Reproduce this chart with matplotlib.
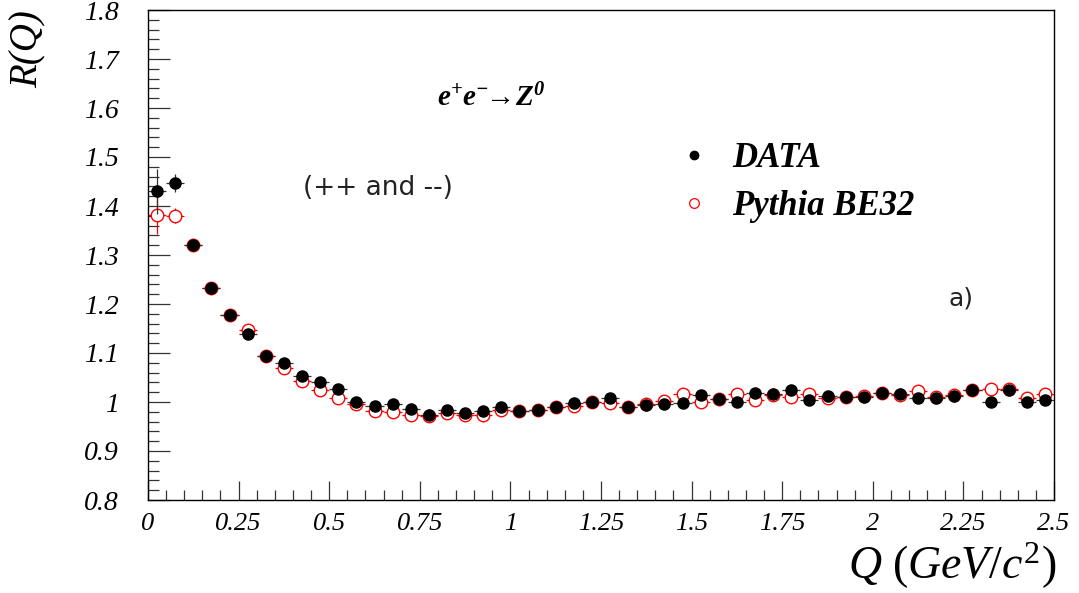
import matplotlib.pyplot as plt
import numpy as np
from matplotlib.lines import Line2D
from matplotlib.ticker import MultipleLocator

plt.rcParams['font.family'] = 'Liberation Serif'
plt.rcParams['mathtext.fontset'] = 'custom'
plt.rcParams['mathtext.rm'] = 'Liberation Serif'
plt.rcParams['mathtext.it'] = 'Liberation Serif:italic'
plt.rcParams['mathtext.bf'] = 'Liberation Serif:bold:italic'

# bin centres in Q (GeV), 50 bins of 0.05
q = [0.025, 0.075, 0.125, 0.175, 0.225, 0.275, 0.325, 0.375, 0.425, 0.475,
     0.525, 0.575, 0.625, 0.675, 0.725, 0.775, 0.825, 0.875, 0.925, 0.975,
     1.025, 1.075, 1.125, 1.175, 1.225, 1.275, 1.325, 1.375, 1.425, 1.475,
     1.525, 1.575, 1.625, 1.675, 1.725, 1.775, 1.825, 1.875, 1.925, 1.975,
     2.025, 2.075, 2.125, 2.175, 2.225, 2.275, 2.325, 2.375, 2.425, 2.475]
q_half = 0.025

r_data = [1.430, 1.447, 1.320, 1.232, 1.177, 1.138, 1.093, 1.079, 1.053, 1.040,
          1.026, 1.001, 0.992, 0.996, 0.985, 0.973, 0.984, 0.977, 0.982, 0.990,
          0.982, 0.984, 0.989, 0.997, 1.001, 1.008, 0.989, 0.994, 0.996, 0.997,
          1.014, 1.006, 0.999, 1.019, 1.016, 1.025, 1.005, 1.012, 1.011, 1.010,
          1.019, 1.016, 1.008, 1.008, 1.012, 1.025, 0.999, 1.025, 1.001, 1.005]
r_data_err = [0.046, 0.018, 0.008, 0.006, 0.005, 0.005, 0.004, 0.004, 0.004, 0.004,
              0.004, 0.004, 0.004, 0.004, 0.004, 0.004, 0.004, 0.004, 0.004, 0.004,
              0.004, 0.004, 0.004, 0.004, 0.004, 0.004, 0.004, 0.004, 0.004, 0.004,
              0.004, 0.004, 0.004, 0.004, 0.004, 0.004, 0.004, 0.004, 0.004, 0.004,
              0.004, 0.004, 0.004, 0.004, 0.004, 0.004, 0.004, 0.004, 0.004, 0.004]

r_mc = [1.382, 1.380, 1.320, 1.232, 1.177, 1.146, 1.093, 1.069, 1.042, 1.025,
        1.008, 0.995, 0.982, 0.980, 0.973, 0.971, 0.977, 0.974, 0.974, 0.984,
        0.982, 0.984, 0.989, 0.992, 0.999, 0.997, 0.989, 0.996, 1.003, 1.016,
        1.001, 1.006, 1.016, 1.004, 1.014, 1.010, 1.016, 1.008, 1.011, 1.012,
        1.019, 1.014, 1.023, 1.011, 1.014, 1.025, 1.026, 1.026, 1.008, 1.016]
r_mc_err = [0.040, 0.015, 0.006, 0.005, 0.004, 0.004, 0.003, 0.003, 0.003, 0.003,
            0.003, 0.003, 0.003, 0.003, 0.003, 0.003, 0.003, 0.003, 0.003, 0.003,
            0.003, 0.003, 0.003, 0.003, 0.003, 0.003, 0.003, 0.003, 0.003, 0.003,
            0.003, 0.003, 0.003, 0.003, 0.003, 0.003, 0.003, 0.003, 0.003, 0.003,
            0.003, 0.003, 0.003, 0.003, 0.003, 0.003, 0.003, 0.003, 0.003, 0.003]

fig = plt.figure(figsize=(10.79, 5.93), dpi=100)
ax = fig.add_axes([148/1079, 1 - 500/593, 906/1079, 490/593])

# simulation first, data drawn on top
ax.errorbar(q, r_mc, xerr=q_half, yerr=r_mc_err, fmt='o', ms=9,
            mfc='white', mec='#ff0000', mew=1.0, ecolor='#ff0000', elinewidth=0.9,
            capsize=0, zorder=2)
ax.errorbar(q, r_data, xerr=q_half, yerr=r_data_err, fmt='o', ms=8,
            mfc='black', mec='black', ecolor='#333333', elinewidth=0.9,
            capsize=0, zorder=3)

ax.set_xlim(0, 2.5)
ax.set_ylim(0.8, 1.8)
ax.xaxis.set_major_locator(MultipleLocator(0.25))
ax.xaxis.set_minor_locator(MultipleLocator(0.05))
ax.yaxis.set_major_locator(MultipleLocator(0.1))
ax.yaxis.set_minor_locator(MultipleLocator(0.02))
ax.tick_params(which='both', direction='in', top=False, right=False,
               width=0.9, color='#333333')
ax.tick_params(axis='y', which='major', length=16, pad=21)
ax.tick_params(axis='y', which='minor', length=8)
ax.tick_params(axis='x', which='major', length=14, pad=9)
ax.tick_params(axis='x', which='minor', length=7)

xt = np.arange(0, 2.51, 0.25)
ax.set_xticks(xt)
ax.set_xticklabels(['0', '0.25', '0.5', '0.75', '1', '1.25', '1.5', '1.75',
                    '2', '2.25', '2.5'], fontsize=19, style='italic')
yt = np.arange(0.8, 1.81, 0.1)
ax.set_yticks(yt)
ax.set_yticklabels(['0.8', '0.9', '1', '1.1', '1.2', '1.3', '1.4', '1.5',
                    '1.6', '1.7', '1.8'], fontsize=20, style='italic')
for s in ax.spines.values():
    s.set_linewidth(1.0)

fig.text(28/1079, 1 - 10/593, 'R(Q)', rotation=90, ha='center', va='top',
         fontsize=28, style='italic')
fig.text(1056/1079, 1 - 566/593, r'$Q\ (GeV/c^{2})$', ha='right', va='center',
         fontsize=33)

ax.text(0.946, 1.62, r'$\mathbf{e^{+}e^{-}\!\!\rightarrow\! Z^{0}}$', ha='center',
        va='center', fontsize=21)
ax.text(0.635, 1.437, '(++ and --)', ha='center', va='center', fontsize=19,
        family='DejaVu Sans', color='#222222')
ax.text(2.243, 1.212, 'a)', ha='center', va='center', fontsize=18,
        family='DejaVu Sans', color='#222222')

handles = [Line2D([], [], ls='', marker='o', ms=6, mfc='black', mec='black'),
           Line2D([], [], ls='', marker='o', ms=7, mfc='white', mec='#ff0000', mew=0.9)]
leg = ax.legend(handles, ['DATA', 'Pythia BE32'], loc='upper left',
                bbox_to_anchor=(0.545, 0.795), frameon=False, handlelength=1.2,
                handletextpad=0.5, labelspacing=0.45,
                prop={'family': 'Liberation Serif', 'style': 'italic',
                      'weight': 'bold', 'size': 25})

fig.savefig('out.png', dpi=100)
